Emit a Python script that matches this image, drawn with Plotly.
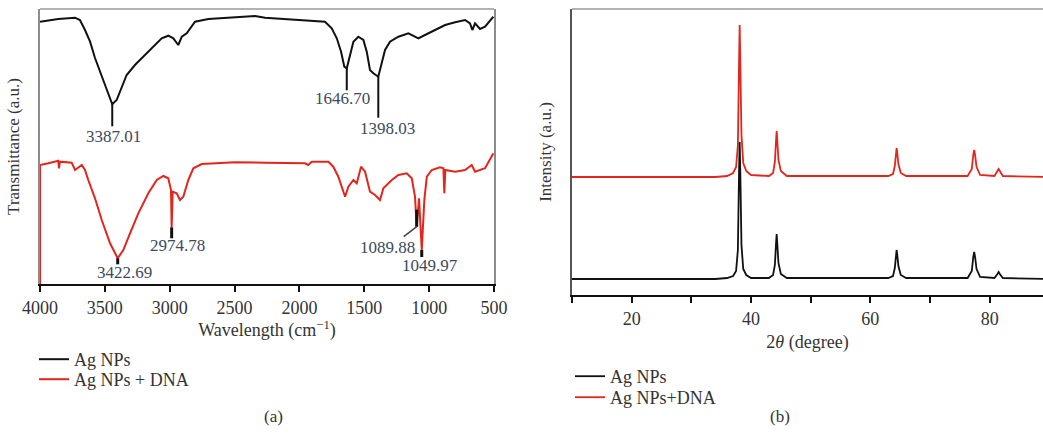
import plotly.graph_objects as go

# ---------------- FTIR data (panel a) ----------------
ftir_wn_np = [4000, 3859, 3730, 3692, 3653, 3614, 3576, 3524, 3473, 3443, 3409, 3370, 3332, 3268,
              3165, 3062, 3011, 2972, 2934, 2907, 2869, 2843, 2805, 2702, 2497, 2342, 2265, 2009,
              1803, 1751, 1712, 1679, 1654, 1635, 1610, 1584, 1546, 1507, 1481, 1456, 1430, 1392,
              1366, 1340, 1302, 1237, 1160, 1083, 1032, 955, 877, 800, 723, 685, 667, 646, 608,
              569, 505]
ftir_t_np = [262.3, 265, 266.3, 264, 254, 242.3, 226, 207.3, 190.7, 179.7, 184, 196, 209, 219,
             232.3, 245.7, 248.3, 245.7, 239, 247.3, 250.7, 255.7, 262.3, 265, 266.3, 268, 266.3, 264,
             262.3, 255.7, 245.7, 232.3, 217.3, 215.7, 229, 242.3, 247.3, 244, 232.3, 214, 210.7, 207.3,
             220.7, 234, 242.3, 247.3, 250.7, 245.7, 249, 254, 259, 261.7, 264, 260.7, 254, 260.7, 255,
             257.3, 267.3]

ftir_wn_dna = [4000, 4000, 3936, 3859, 3854, 3846, 3756, 3730, 3678, 3653, 3628, 3576, 3524, 3460,
               3401, 3358, 3306, 3242, 3165, 3100, 3049, 3011, 2990, 2985, 2977, 2946, 2921, 2895,
               2857, 2818, 2753, 2497, 2265, 1957, 1932, 1905, 1777, 1739, 1700, 1669, 1648, 1623,
               1584, 1558, 1525, 1494, 1456, 1417, 1379, 1353, 1288, 1237, 1173, 1134, 1109, 1096,
               1078, 1057, 1037, 1018, 980, 916, 890, 883, 875, 800, 723, 672, 646, 569, 505]
ftir_t_dna = [0, 119, 120.7, 123.3, 115.7, 122.3, 121.3, 114, 119, 114, 104, 85.7, 64, 40.7,
              25.7, 34, 50.7, 70.7, 90.7, 104, 108, 105.7, 94, 56.7, 92.3, 90.7, 84, 87.3,
              104, 115.7, 120, 121.7, 121.3, 120.7, 119, 122.3, 122.3, 117.3, 107.3, 95.7, 87.3, 97.3,
              104, 100.7, 117.3, 112.3, 92.3, 89, 84, 95.7, 104, 109, 110.7, 105.7, 87.3, 57.3,
              85.7, 34, 84, 107.3, 114, 116.7, 115.7, 90.7, 114, 112.3, 114, 119, 112.3, 115.7, 130.7]

ftir_ticks = [4000, 3500, 3000, 2500, 2000, 1500, 1000, 500]

# peak labels: (data wavenumber of the minimum, label)
peak_labels_np = [(3443, "3387.01"), (1635, "1646.70"), (1392, "1398.03")]
peak_labels_dna = [(3401, "3422.69"), (2985, "2974.78"), (1096, "1089.88"), (1057, "1049.97")]

# ---------------- XRD data (panel b) ----------------
xrd_2t = [10, 34, 36, 37, 37.5, 37.8, 38.0, 38.1, 38.2, 38.4, 38.7, 39.2, 40,
          43, 43.7, 44.0, 44.2, 44.3, 44.4, 44.6, 45.0, 46,
          63, 63.8, 64.1, 64.3, 64.4, 64.5, 64.7, 65.1, 66,
          76.3, 77.0, 77.25, 77.4, 77.55, 77.8, 78.4,
          80.8, 81.3, 81.5, 81.7, 82.2, 90]
xrd_np = [16, 16, 17, 19, 24, 45, 125, 153, 125, 50, 26, 20, 17,
          17, 20, 30, 52, 61, 52, 32, 21, 17,
          17, 19, 27, 41, 45, 41, 29, 20, 17,
          17, 24, 38, 43, 38, 26, 18,
          17, 21, 23, 21, 17, 16]
xrd_dna = [118, 118, 119, 122, 128, 150, 235, 270, 235, 160, 132, 124, 120,
           119, 122, 133, 155, 164, 155, 135, 124, 119,
           119, 121, 129, 143, 147, 143, 131, 122, 119,
           119, 126, 140, 145, 140, 128, 120,
           119, 124, 126, 124, 119, 118]

xrd_tickvals = [20, 40, 60, 80]

BLACK = "#111111"
RED = "#e3261c"
SERIF = "Liberation Serif, Times New Roman, serif"
TXT = "#333333"
LBL = "#3c4a5c"

W, H = 1043, 439
def fx(px): return px / W
def fy(py): return (H - py) / H

fig = go.Figure()

fig.add_trace(go.Scatter(x=ftir_wn_np, y=ftir_t_np, mode="lines", name="Ag NPs", showlegend=True,
                         line=dict(color=BLACK, width=2), xaxis="x", yaxis="y", legend="legend"))
fig.add_trace(go.Scatter(x=ftir_wn_dna, y=ftir_t_dna, mode="lines", name="Ag NPs + DNA", showlegend=True,
                         line=dict(color=RED, width=2), xaxis="x", yaxis="y", legend="legend2"))

fig.add_trace(go.Scatter(x=xrd_2t, y=xrd_dna, mode="lines", name="Ag NPs+DNA", showlegend=True,
                         line=dict(color=RED, width=1.8), xaxis="x2", yaxis="y2", legend="legend4"))
fig.add_trace(go.Scatter(x=xrd_2t, y=xrd_np, mode="lines", name="Ag NPs", showlegend=True,
                         line=dict(color=BLACK, width=1.8), xaxis="x2", yaxis="y2", legend="legend3"))

# ---- peak markers and labels, positioned from the data ----
WN_PER_PX = 3500 / 454.0
def val_at(xs, ys, w):
    i = min(range(len(xs)), key=lambda k: abs(xs[k] - w))
    return xs[i], ys[i]

# style: label -> (marker length px, marker width, text xshift, text yshift)
marker_style = {
    "3387.01": (22, 2, 1, -32),
    "1646.70": (22, 2, -4, -30),
    "1398.03": (41, 2, 9, -52),
    "3422.69": (6, 3, 7, -14),
    "2974.78": (11, 3, 6, -18),
    "1089.88": (0, 3, -29, -21),
    "1049.97": (7, 3, 8, -15),
}
shapes = []
annotations = []
for xs, ys, labels in [(ftir_wn_np, ftir_t_np, peak_labels_np), (ftir_wn_dna, ftir_t_dna, peak_labels_dna)]:
    for w, lab in labels:
        px, pv = val_at(xs, ys, w)
        ln, lw, dx, dy = marker_style[lab]
        if lab == "1089.88":
            shapes.append(dict(type="line", xref="x", yref="y", x0=px, x1=px, y0=pv + 17, y1=pv,
                               line=dict(color=BLACK, width=3)))
            shapes.append(dict(type="line", xref="x", yref="y", x0=px, x1=px + 13 * WN_PER_PX,
                               y0=pv, y1=pv - 10, line=dict(color="#444", width=1.5)))
        else:
            shapes.append(dict(type="line", xref="x", yref="y", x0=px, x1=px, y0=pv, y1=pv - ln,
                               line=dict(color=BLACK, width=lw)))
        annotations.append(dict(x=px, y=pv, xref="x", yref="y", text=lab, showarrow=False,
                                xshift=dx, yshift=dy, font=dict(family=SERIF, size=17, color=LBL)))

# frame lines (top borders)
shapes.append(dict(type="line", xref="x domain", yref="y domain", x0=0, x1=1, y0=1, y1=1,
                   line=dict(color="#999999", width=1.5)))
shapes.append(dict(type="line", xref="x2 domain", yref="y2 domain", x0=0, x1=1, y0=1, y1=1,
                   line=dict(color="#999999", width=1.5)))

annotations.append(dict(x=fx(262), y=fy(428), xref="paper", yref="paper", text="(a)", showarrow=False,
                        font=dict(family=SERIF, size=17, color=TXT)))
annotations.append(dict(x=fx(792), y=fy(428), xref="paper", yref="paper", text="(b)", showarrow=False,
                        font=dict(family=SERIF, size=17, color=TXT)))

tickfont = dict(family=SERIF, size=18, color=TXT)
titlefont = dict(family=SERIF, size=18, color=TXT)
legfont = dict(family=SERIF, size=18, color=TXT)

def leg(xp, yp):
    return dict(x=fx(xp), y=fy(yp), xanchor="left", yanchor="top", font=legfont, visible=True,
                bgcolor="rgba(0,0,0,0)", tracegroupgap=0)

fig.update_layout(
    width=W, height=H, margin=dict(l=0, r=0, t=0, b=0, autoexpand=False),
    paper_bgcolor="white", plot_bgcolor="white", showlegend=True,
    shapes=shapes, annotations=annotations,
    xaxis=dict(domain=[fx(40), fx(494)], range=[4000, 500], tickvals=ftir_ticks,
               showline=True, linecolor=BLACK, linewidth=2, ticks="outside", ticklen=6,
               tickwidth=2, tickcolor=BLACK, showgrid=False, zeroline=False, tickfont=tickfont,
               title=dict(text="Wavelength (cm<sup>−1</sup>)", font=titlefont, standoff=4),
               anchor="y", automargin=False),
    yaxis=dict(domain=[fy(284), fy(9)], range=[0, 275], showticklabels=False, ticks="",
               showline=True, linecolor="#8c8c8c", linewidth=1.5, mirror=True,
               showgrid=False, zeroline=False, anchor="x", automargin=False,
               title=dict(text="Transmittance (a.u.)", font=dict(family=SERIF, size=17, color=TXT),
                          standoff=14)),
    xaxis2=dict(domain=[fx(572), 1.0], range=[10, 10 + (W - 572) / 5.967], tickvals=xrd_tickvals,
                showline=True, linecolor=BLACK, linewidth=2,
                ticks="outside", ticklen=6, tickwidth=2, tickcolor=BLACK, showgrid=False,
                minor=dict(tick0=10, dtick=10, ticks="outside", ticklen=6, tickwidth=2, tickcolor=BLACK),
                zeroline=False, tickfont=tickfont, anchor="y2", automargin=False,
                title=dict(text="2<i>θ</i> (degree)", font=titlefont, standoff=8)),
    yaxis2=dict(domain=[fy(295), fy(9)], range=[0, 286], showticklabels=False, ticks="",
                showline=True, linecolor="#555555", linewidth=1.5, showgrid=False,
                zeroline=False, anchor="x2", automargin=False,
                title=dict(text="Intensity (a.u.)", font=dict(family=SERIF, size=17, color=TXT),
                           standoff=14)),
    legend=leg(34, 341),
    legend2=leg(34, 361),
    legend3=leg(570, 358),
    legend4=leg(570, 379),
)

fig.write_html("out.html")
